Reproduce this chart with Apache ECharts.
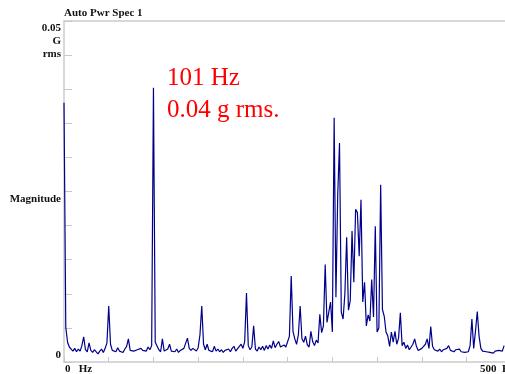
<!DOCTYPE html>
<html>
<head>
<meta charset="utf-8">
<script src="https://cdn.jsdelivr.net/npm/echarts@6/dist/echarts.min.js"></script>
<style>
html, body { margin: 0; padding: 0; background: #fff; }
#chart { width: 505px; height: 374px; }
</style>
</head>
<body>
<div id="chart"></div>
<script>
// spectrum bins, 2 Hz apart starting at 0 Hz
var binStepHz = 2
// magnitude in milli-g rms
var magMg = [
	38.0, 5.1, 2.9, 2.2, 1.9, 1.6, 2.0, 1.5, 1.9, 1.6,
	2.4, 3.7, 1.8, 1.5, 2.8, 1.7, 1.4, 1.8, 1.5, 1.2,
	1.6, 1.9, 1.4, 2.0, 2.8, 8.2, 2.6, 1.7, 1.9, 1.5,
	2.1, 1.6, 1.8, 1.4, 1.9, 2.3, 3.4, 1.7, 1.9, 1.6,
	1.5, 1.8, 1.6, 2.0, 1.7, 1.9, 1.6, 2.2, 1.8, 2.4,
	40.2, 2.9, 3.1, 1.8, 1.5, 3.4, 1.6, 1.5, 1.9, 2.6,
	1.6, 1.8, 1.5, 1.9, 1.4, 1.7, 1.5, 2.0, 1.8, 3.5,
	2.0, 1.7, 2.0, 1.8, 1.6, 2.1, 4.0, 8.2, 2.6, 1.8,
	2.6, 1.7, 1.9, 1.5, 2.3, 1.6, 1.9, 1.5, 1.8, 1.4,
	1.7, 1.6, 1.9, 1.5, 2.0, 2.3, 1.6, 1.8, 2.3, 2.6,
	2.0, 3.0, 10.1, 2.4, 1.8, 2.2, 5.3, 1.9, 1.6, 2.2,
	1.8, 2.3, 1.7, 2.4, 1.9, 2.5, 2.0, 3.1, 2.1, 2.6,
	3.0, 2.2, 2.0, 2.5, 2.2, 2.3, 3.8, 12.6, 4.5, 3.4,
	2.6, 4.0, 8.2, 3.4, 2.9, 3.8, 2.5, 2.2, 4.5, 3.0,
	2.4, 3.2, 2.8, 7.0, 4.3, 5.3, 14.3, 5.8, 7.3, 8.8,
	4.4, 35.8, 9.5, 24.5, 32.1, 7.3, 6.3, 10.0, 18.3, 7.6,
	9.0, 19.2, 11.7, 22.4, 21.9, 15.5, 23.8, 8.8, 11.7, 5.3,
	6.9, 6.0, 12.1, 6.6, 19.9, 4.4, 5.0, 26.0, 7.7, 6.7,
	4.4, 3.8, 2.3, 4.4, 2.9, 4.5, 2.6, 3.5, 7.2, 2.4,
	2.9, 2.0, 2.5, 1.8, 2.2, 2.6, 3.4, 2.3, 1.7, 1.6,
	2.0, 2.3, 2.6, 3.4, 2.0, 5.2, 2.3, 1.8, 2.0, 1.6,
	1.9, 1.5, 1.8, 1.6, 2.0, 2.4, 1.7, 1.9, 1.5, 1.8,
	1.6, 1.9, 1.5, 1.7, 1.4, 1.6, 1.5, 2.4, 6.3, 2.0,
	4.5, 7.4, 3.8, 2.0, 1.6, 1.8, 1.5, 1.3, 1.4, 1.6,
	1.3, 1.6, 1.5, 1.7, 1.8, 1.6, 2.4
]
var xTickHz = 50
var yTickMg = 5
// visible part of the 0-500 Hz span (the plot is cut at the window edge)
var xVisibleMaxHz = 493

var seriesData = magMg.map(function(v, i) {
	return [i * binStepHz, v]
})

var labelFont = 'bold 11px "Liberation Serif", "DejaVu Serif", serif'
var noteFont = '25px "Liberation Serif", "DejaVu Serif", serif'
var axisGray = "#cccccc"

var option = {
	animation: false,
	grid: {
		left: 64,
		top: 21,
		right: 0,
		bottom: 12
	},
	xAxis: [
		{
			type: "value",
			min: 0,
			max: xVisibleMaxHz,
			interval: xTickHz,
			axisLine: { show: true, lineStyle: { color: axisGray, width: 1.5 } },
			axisTick: { show: true, inside: true, length: 5, lineStyle: { color: "#c8c8c8" } },
			axisLabel: { show: false },
			splitLine: { show: false }
		},
		{
			// top frame line only
			type: "value",
			position: "top",
			min: 0,
			max: xVisibleMaxHz,
			axisLine: { show: true, lineStyle: { color: axisGray, width: 1.5 } },
			axisTick: { show: false },
			axisLabel: { show: false },
			splitLine: { show: false }
		}
	],
	yAxis: {
		type: "value",
		min: 0,
		max: 50,
		interval: yTickMg,
		axisLine: { show: true, lineStyle: { color: axisGray, width: 1.5 } },
		axisTick: { show: true, inside: true, length: 8, lineStyle: { color: "#c8c8c8" } },
		axisLabel: { show: false },
		splitLine: { show: false }
	},
	graphic: [
		{ type: "text", left: 64, top: 8, style: { text: "Auto Pwr Spec 1", font: labelFont, fill: "#111" } },
		{ type: "text", right: 444, top: 23, style: { text: "0.05", font: labelFont, fill: "#111", align: "right" } },
		{ type: "text", right: 444, top: 36, style: { text: "G", font: labelFont, fill: "#111", align: "right" } },
		{ type: "text", right: 444, top: 49, style: { text: "rms", font: labelFont, fill: "#111", align: "right" } },
		{ type: "text", right: 444, top: 194, style: { text: "Magnitude", font: labelFont, fill: "#111", align: "right" } },
		{ type: "text", right: 444, top: 350, style: { text: "0", font: labelFont, fill: "#111", align: "right" } },
		{ type: "text", left: 65, top: 364, style: { text: "0   Hz", font: labelFont, fill: "#111" } },
		{ type: "text", left: 480, top: 364, style: { text: "500  Hz", font: labelFont, fill: "#111" } },
		{ type: "text", left: 167, top: 66, style: { text: "101 Hz", font: noteFont, fill: "#ff0000" } },
		{ type: "text", left: 167, top: 98, style: { text: "0.04 g rms.", font: noteFont, fill: "#ff0000" } }
	],
	series: [
		{
			name: "Auto Pwr Spec 1",
			type: "line",
			data: seriesData,
			showSymbol: false,
			clip: true,
			lineStyle: { color: "#00008b", width: 1.2 }
		}
	]
}

var myChart = echarts.init(document.getElementById("chart"))
myChart.setOption(option)
</script>
</body>
</html>
